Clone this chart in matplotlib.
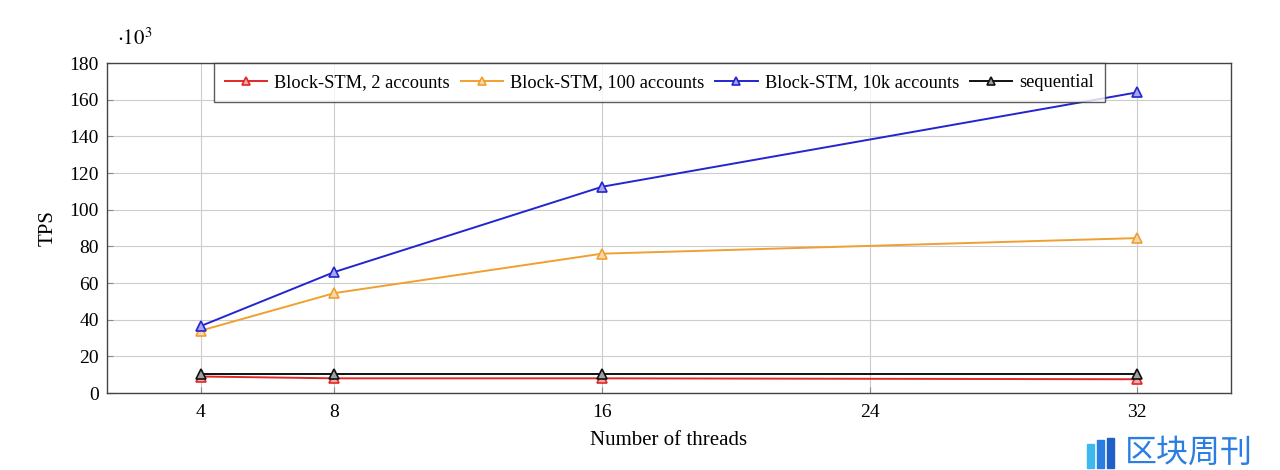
import numpy as np
import matplotlib.pyplot as plt
from matplotlib.colors import to_rgb
from matplotlib.patches import Rectangle

plt.rcParams['font.family'] = ['Liberation Serif', 'DejaVu Serif']
plt.rcParams['mathtext.fontset'] = 'stix'

threads = [4, 8, 16, 32]
xticks = [4, 8, 16, 24, 32]
yticks = [0, 20, 40, 60, 80, 100, 120, 140, 160, 180]

labels = ['Block-STM, 2 accounts', 'Block-STM, 100 accounts',
          'Block-STM, 10k accounts', 'sequential']
tps_2 = [9, 8, 8, 7.5]        # x10^3
tps_100 = [34, 54.5, 76, 84.5]
tps_10k = [36.5, 66, 112.5, 164]
tps_seq = [10.5, 10.5, 10.5, 10.5]
colors = ['#e02828', '#f0a030', '#2424d0', '#111111']


def lighten(c, f=0.6):
    r, g, b = to_rgb(c)
    return (r + (1 - r) * f, g + (1 - g) * f, b + (1 - b) * f)


fig = plt.figure(figsize=(12.8, 4.7), dpi=100)
ax = fig.add_axes([107/1280, 1 - 393/470, (1231-107)/1280, (393-63)/470])

for ys, lab, c in zip([tps_2, tps_100, tps_10k, tps_seq], labels, colors):
    ax.plot(threads, ys, color=c, lw=1.4, marker='^', ms=7.5,
            markerfacecolor=lighten(c), markeredgecolor=c, mew=1.2, label=lab)

ax.set_xlim(1.2, 34.8)
ax.set_ylim(0, 180)
ax.set_xticks(xticks)
ax.set_yticks(yticks)
ax.grid(True, color='#cccccc', lw=0.8)
ax.set_axisbelow(True)
ax.tick_params(direction='in', labelsize=14, length=4, color='#888888')
ax.tick_params(axis='x', pad=8)
ax.tick_params(axis='y', pad=6)
for s in ax.spines.values():
    s.set_color('#444444')
    s.set_linewidth(1.0)

ax.set_xlabel('Number of threads', fontsize=15, labelpad=7)
ax.set_ylabel('TPS', fontsize=15, labelpad=8)
ax.text(0.009, 1.04, r'$\cdot 10^3$', transform=ax.transAxes, fontsize=15,
        ha='left', va='bottom')

leg = ax.legend(loc='upper center', bbox_to_anchor=(0.4915, 1.0), ncol=4,
                fontsize=13.2, frameon=True, fancybox=False, borderpad=0.6,
                borderaxespad=0, columnspacing=0.6, handlelength=2.3,
                handletextpad=0.4, markerscale=0.75)
leg.get_frame().set_edgecolor('#333333')
leg.get_frame().set_linewidth(1.0)

# watermark
logo_blue = '#2a7de1'
for i, (x0, h) in enumerate([(1087, 24), (1097, 28), (1107, 30)]):
    fig.patches.append(Rectangle((x0/1280, 1 - 468/470), 7/1280, h/470,
                                 transform=fig.transFigure,
                                 color=['#3fb8f0', logo_blue, '#1f5fc8'][i]))
fig.text(1189/1280, 1 - 453/470, '区块周刊', fontsize=23, color=logo_blue,
         ha='center', va='center', family=['Noto Sans CJK SC', 'DejaVu Sans'])

fig.savefig('out.png', dpi=100)
